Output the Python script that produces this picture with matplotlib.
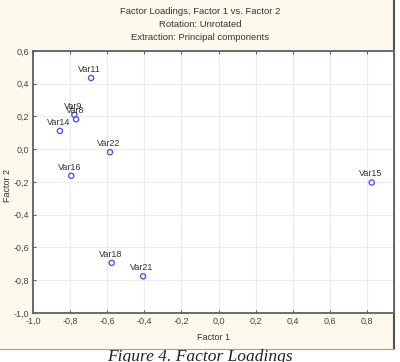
# Factor loadings scatter, Factor 1 vs Factor 2
import numpy as np
import matplotlib.pyplot as plt
from matplotlib.patches import Rectangle

names = ['Var11', 'Var9', 'Var8', 'Var14', 'Var22', 'Var16', 'Var18', 'Var21', 'Var15']
factor1 = [-0.687, -0.777, -0.768, -0.855, -0.585, -0.794, -0.576, -0.407, 0.825]
factor2 = [0.435, 0.21, 0.183, 0.112, -0.018, -0.162, -0.694, -0.776, -0.203]

xticks = np.round(np.arange(-1.0, 0.81, 0.2), 1)
yticks = np.round(np.arange(-1.0, 0.61, 0.2), 1)

def fmt(v):
	return ('%.1f' % v).replace('-0.0', '0.0').replace('.', ',')

plt.rcParams['font.family'] = ['Liberation Sans', 'DejaVu Sans']
fig = plt.figure(figsize=(4.0, 3.62), dpi=100)
fig.patch.set_facecolor('white')

# cream panel behind the chart
bg = fig.add_axes([0, 1 - 349/362., 394/400., 349/362.])
bg.set_zorder(0)
bg.set_facecolor('#fdf9ec')
bg.set_xticks([])
bg.set_yticks([])
for k, s in bg.spines.items():
	s.set_visible(k in ('bottom', 'right'))
bg.spines['bottom'].set_color('#a0a0a0')
bg.spines['right'].set_color('#505050')
bg.spines['right'].set_linewidth(1.5)

ax = fig.add_axes([33/400., 1 - 313/362., 361/400., 262/362.])
ax.set_zorder(2)
ax.set_facecolor('white')
ax.scatter(factor1, factor2, s=14, facecolors='none', edgecolors='#5555ee', linewidths=1.0, zorder=3)
for n, x, y in zip(names, factor1, factor2):
	ax.annotate(n, (x, y), xytext=(-1, 3), textcoords='offset points', ha='center', va='bottom',
			fontsize=6.5, color='#333333', zorder=4)

ax.set_xlim(-1.0, 0.945)
ax.set_ylim(-1.0, 0.6)
ax.set_xticks(xticks)
ax.set_yticks(yticks)
ax.set_xticklabels([fmt(v) for v in xticks])
ax.set_yticklabels([fmt(v) for v in yticks])
ax.tick_params(direction='in', length=2, width=0.8, color='#606060', labelsize=6.5,
		labelcolor='#444444', top=True, right=False, pad=3)
ax.grid(True, color='#ececec', lw=0.8)
ax.set_axisbelow(True)
for s in ax.spines.values():
	s.set_color('#606060')
	s.set_linewidth(1.3)

ax.set_xlabel('Factor 1', fontsize=6.5, color='#333333', labelpad=5)
fig.text(8/400., 1 - 185/362., 'Factor 2', rotation=90, ha='center', va='center',
		fontsize=6.5, color='#333333')
fig.text(0.5, 1 - 12/362., 'Factor Loadings, Factor 1 vs. Factor 2', ha='center', va='center',
		fontsize=6.8, color='#333333')
fig.text(0.5, 1 - 24.5/362., 'Rotation: Unrotated', ha='center', va='center', fontsize=6.8, color='#333333')
fig.text(0.5, 1 - 37/362., 'Extraction: Principal components', ha='center', va='center',
		fontsize=6.8, color='#333333')

fig.text(0.5, 1 - 361/362., 'Figure 4. Factor Loadings', ha='center', va='baseline',
		fontsize=12.5, style='italic', family='Liberation Serif', color='#222222')

fig.savefig('out.png', dpi=100)
